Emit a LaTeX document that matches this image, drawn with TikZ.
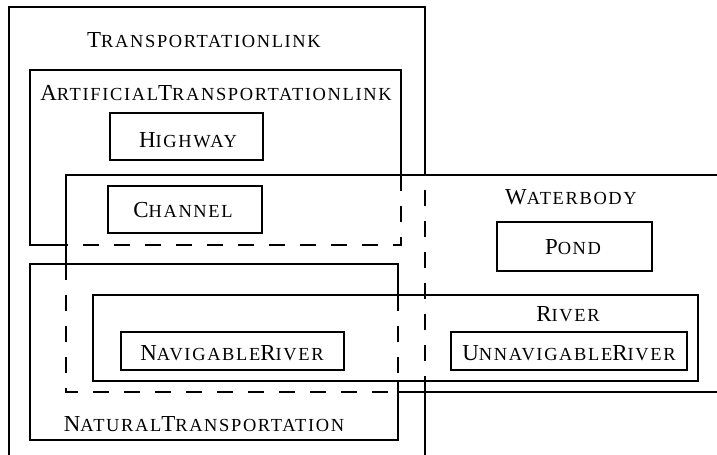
\documentclass[tikz,border=0pt]{standalone}
\usepackage{fontspec}
\newfontfamily\labfont[LetterSpace=9]{Liberation Serif}
\newcommand\Bg[1]{{\fontsize{23}{26}\selectfont #1}}
\newcommand\Sm[1]{{\fontsize{18.5}{21}\selectfont #1}}
\tikzset{
  edge/.style={line width=1.5bp, line cap=rect},
  dsh/.style={line width=1.5bp, dash pattern=on 16bp off 15bp},
  lab/.style={anchor=base, inner sep=0pt, font=\labfont},
}
\begin{document}
\begin{tikzpicture}[x=1bp, y=-1bp]
\useasboundingbox (0,0) rectangle (717,455);
\fill[white] (0,0) rectangle (717,455);
% TransportationLink
\draw[edge] (9,460) -- (9,7) -- (425,7) -- (425,175);
\draw[dsh, dash phase=16bp] (425,175) -- (425,392);
\draw[edge] (425,392) -- (425,460);
% ArtificialTransportationLink
\draw[edge] (66,245) -- (30,245) -- (30,70) -- (401,70) -- (401,175);
\draw[dsh] (401,175) -- (401,245) -- (66,245);
% NaturalTransportation
\draw[edge] (398,295) -- (398,264) -- (30,264) -- (30,440) -- (398,440) -- (398,381);
\draw[dsh] (398,295) -- (398,381);
% WaterBody
\draw[edge] (66,264) -- (66,175) -- (720,175);
\draw[dsh] (66,264) -- (66,392) -- (398,392);
\draw[edge] (398,392) -- (720,392);
% inner boxes
\draw[edge] (110,113) rectangle (263,160);
\draw[edge] (108,186) rectangle (262,233);
\draw[edge] (497,222) rectangle (652,271);
\draw[edge] (93,295) rectangle (698,381);
\draw[edge] (121,332) rectangle (344,370);
\draw[edge] (451,332) rectangle (687,370);
% labels
\node[lab] (tl) at (204,48) {\Bg{T}\Sm{RANSPORTATIONLINK}};
\node[lab] (atl) at (216,101) {\Bg{A}\Sm{RTIFICIAL}\Bg{T}\Sm{RANSPORTATIONLINK}};
\node[lab] (hw) at (188,148) {\Bg{H}\Sm{IGHWAY}};
\node[lab] (ch) at (183,218) {\Bg{C}\Sm{HANNEL}};
\node[lab] (wb) at (571,205) {\Bg{W}\Sm{ATERBODY}};
\node[lab] (pd) at (573,255) {\Bg{P}\Sm{OND}};
\node[lab] (rv) at (568,322) {\Bg{R}\Sm{IVER}};
\node[lab] (nr) at (232,360) {\Bg{N}\Sm{AVIGABLE}\Bg{R}\Sm{IVER}};
\node[lab] (ur) at (569,360) {\Bg{U}\Sm{NNAVIGABLE}\Bg{R}\Sm{IVER}};
\node[lab] (nt) at (204,431) {\Bg{N}\Sm{ATURAL}\Bg{T}\Sm{RANSPORTATION}};
\end{tikzpicture}
\end{document}
